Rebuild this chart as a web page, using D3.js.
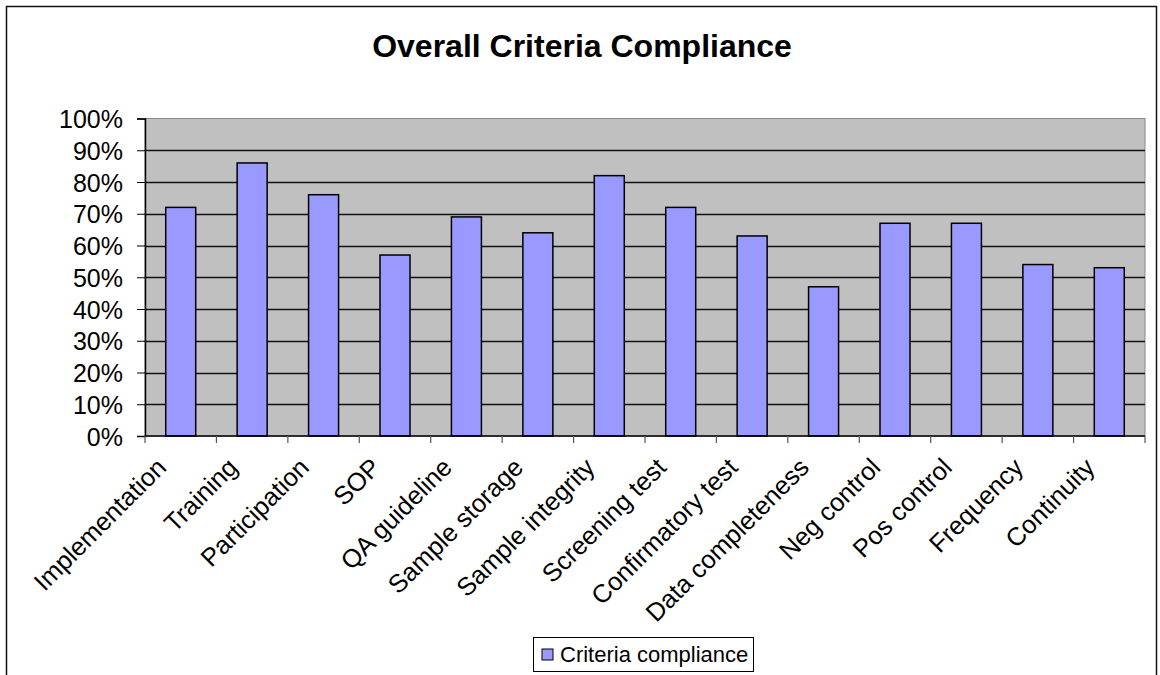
<!DOCTYPE html>
<meta charset="utf-8">
<head>
<script type="text/javascript" src="https://cdn.jsdelivr.net/npm/d3@7/dist/d3.min.js"></script>
<title>Overall Criteria Compliance</title>
<style>
body { margin: 0; background: #fff; }
text { font-family: "Liberation Sans", Arial, sans-serif; fill: #000; }
</style>
</head>
<body>
<script>

// chart values
var categories = ["Implementation", "Training", "Participation", "SOP", "QA guideline",
  "Sample storage", "Sample integrity", "Screening test", "Confirmatory test",
  "Data completeness", "Neg control", "Pos control", "Frequency", "Continuity"];
var compliance = [72, 86, 76, 57, 69, 64, 82, 72, 63, 47, 67, 67, 54, 53];
var yTicks = [0, 10, 20, 30, 40, 50, 60, 70, 80, 90, 100];
var seriesName = "Criteria compliance";
var chartTitle = "Overall Criteria Compliance";

var width = 1160, height = 675;
var plot = {left: 145, top: 118.5, right: 1145, bottom: 436};

var svg = d3.select("body").append("svg")
    .attr("width", width)
    .attr("height", height);

// outer chart frame
svg.append("rect")
    .attr("x", 6.5).attr("y", 6.5)
    .attr("width", 1150).attr("height", 700)
    .attr("fill", "#fff")
    .attr("stroke", "#111")
    .attr("stroke-width", 1.5);

svg.append("text")
    .attr("x", 582)
    .attr("y", 57)
    .attr("text-anchor", "middle")
    .style("font-size", "32px")
    .style("font-weight", "bold")
    .text(chartTitle);

var x = d3.scaleBand()
    .domain(categories)
    .range([plot.left, plot.right])
    .paddingInner(0.58)
    .paddingOuter(0.29);

var y = d3.scaleLinear()
    .domain([0, 100])
    .range([plot.bottom, plot.top]);

// plot area background
svg.append("rect")
    .attr("x", plot.left)
    .attr("y", plot.top)
    .attr("width", plot.right - plot.left)
    .attr("height", plot.bottom - plot.top)
    .attr("fill", "#c0c0c0")
    .attr("stroke", "#8a8a8a")
    .attr("stroke-width", 1);

// gridlines
svg.append("g")
    .selectAll("line")
    .data(yTicks.filter(function(d) { return d > 0 && d < 100; }))
    .enter().append("line")
    .attr("x1", plot.left)
    .attr("x2", plot.right)
    .attr("y1", function(d) { return Math.round(y(d)) + 0.5; })
    .attr("y2", function(d) { return Math.round(y(d)) + 0.5; })
    .attr("stroke", "#111")
    .attr("stroke-width", 1.3);

// bars
svg.append("g")
    .selectAll("rect")
    .data(compliance)
    .enter().append("rect")
    .attr("x", function(d, i) { return x(categories[i]); })
    .attr("y", function(d) { return y(d); })
    .attr("width", x.bandwidth())
    .attr("height", function(d) { return y(0) - y(d); })
    .attr("fill", "#9999ff")
    .attr("stroke", "#000")
    .attr("stroke-width", 1.5);

// y axis
var yAxis = d3.axisLeft(y)
    .tickValues(yTicks)
    .tickSize(8)
    .tickPadding(14)
    .tickFormat(function(d) { return d + "%"; });

var gy = svg.append("g")
    .attr("transform", "translate(" + plot.left + ",0)")
    .call(yAxis);
gy.select(".domain").attr("stroke", "#000").attr("stroke-width", 1.5);
gy.selectAll(".tick line").attr("stroke", "#000");
gy.selectAll(".tick text")
    .style("font-family", "'Liberation Sans', Arial, sans-serif")
    .style("font-size", "25px")
    .attr("dy", "0.36em");

// x axis with ticks on category boundaries
var step = x.step();
var bounds = d3.range(categories.length + 1).map(function(i) { return plot.left + i * step; });

svg.append("line")
    .attr("x1", plot.left).attr("x2", plot.right)
    .attr("y1", plot.bottom).attr("y2", plot.bottom)
    .attr("stroke", "#000")
    .attr("stroke-width", 1.5);

svg.append("g")
    .selectAll("line")
    .data(bounds)
    .enter().append("line")
    .attr("x1", function(d) { return d; })
    .attr("x2", function(d) { return d; })
    .attr("y1", plot.bottom)
    .attr("y2", plot.bottom + 7)
    .attr("stroke", "#555")
    .attr("stroke-width", 1.2);

svg.append("g")
    .selectAll("text")
    .data(categories)
    .enter().append("text")
    .attr("transform", function(d) {
      var cx = x(d) + x.bandwidth() / 2;
      return "translate(" + (cx - 13) + "," + (plot.bottom + 33) + ") rotate(-45)";
    })
    .attr("text-anchor", "end")
    .style("font-size", "25.5px")
    .text(function(d) { return d; });

// legend
var legend = svg.append("g").attr("transform", "translate(533,637)");
legend.append("rect")
    .attr("x", 0.5).attr("y", 0.5)
    .attr("width", 220).attr("height", 34)
    .attr("fill", "#fff")
    .attr("stroke", "#000")
    .attr("stroke-width", 1);
legend.append("rect")
    .attr("x", 9).attr("y", 12)
    .attr("width", 11).attr("height", 11)
    .attr("fill", "#9999ff")
    .attr("stroke", "#000")
    .attr("stroke-width", 1);
legend.append("text")
    .attr("x", 27)
    .attr("y", 25)
    .style("font-size", "22px")
    .text(seriesName);

</script>
</body>
</html>
